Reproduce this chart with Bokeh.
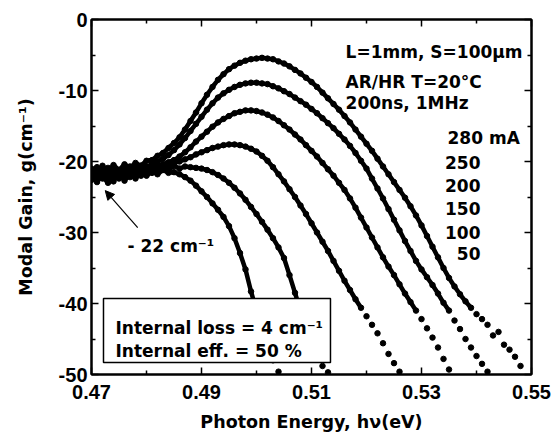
from bokeh.plotting import figure
from bokeh.models import (FixedTicker, PrintfTickFormatter, LinearAxis, Range1d,
                          Label, BoxAnnotation, Arrow, NormalHead)
from bokeh.embed import file_html
from bokeh.resources import INLINE

# ---------------- data ----------------
energy = [0.470, 0.471, 0.472, 0.473, 0.474, 0.475, 0.476, 0.477, 0.478, 0.479,
          0.480, 0.481, 0.482, 0.483, 0.484, 0.485, 0.486, 0.487, 0.488, 0.489,
          0.490, 0.491, 0.492, 0.493, 0.494, 0.495, 0.496, 0.497, 0.498, 0.499,
          0.500, 0.501, 0.502, 0.503, 0.504, 0.505, 0.506, 0.507, 0.508, 0.509,
          0.510, 0.511, 0.512, 0.513, 0.514, 0.515, 0.516, 0.517, 0.518, 0.519,
          0.520, 0.521, 0.522, 0.523, 0.524, 0.525, 0.526, 0.527, 0.528, 0.529,
          0.530, 0.531, 0.532, 0.533, 0.534, 0.535, 0.536, 0.537, 0.538, 0.539,
          0.540, 0.541, 0.542, 0.543, 0.544, 0.545, 0.546, 0.547, 0.548]

gain_280 = [-21.0, -21.8, -20.6, -21.4, -20.5, -21.2, -20.4, -20.9, -20.2, -20.6,
            -19.9, -19.8, -19.2, -18.8, -18.1, -17.4, -16.6, -15.5, -14.3, -13.1,
            -11.8, -10.6, -9.5, -8.5, -7.7, -7.0, -6.5, -6.1, -5.8, -5.6,
            -5.5, -5.4, -5.5, -5.6, -5.9, -6.2, -6.6, -7.1, -7.6, -8.2,
            -8.8, -9.5, -10.3, -11.1, -11.9, -12.7, -13.6, -14.5, -15.5, -16.5,
            -17.5, -18.5, -19.6, -20.7, -21.8, -22.9, -24.0, -25.1, -26.3, -27.6,
            -29.0, -30.5, -32.0, -33.5, -35.0, -36.4, -37.6, -38.7, -39.7, -40.6,
            -41.5, -42.2, -43.0, -44.5, -44.0, -45.8, -46.5, -47.5, -48.8]

gain_250 = [-22.2, -21.5, -22.4, -21.7, -21.0, -21.9, -21.3, -20.7, -21.4, -20.6,
            -20.9, -20.3, -20.0, -19.6, -19.1, -18.4, -17.6, -16.7, -15.7, -14.7,
            -13.7, -12.7, -11.8, -11.0, -10.4, -9.9, -9.5, -9.2, -9.0, -8.9,
            -8.9, -9.0, -9.1, -9.4, -9.7, -10.1, -10.5, -11.0, -11.5, -12.0,
            -12.6, -13.2, -13.9, -14.6, -15.3, -16.1, -16.9, -17.8, -18.8, -19.9,
            -21.0, -22.4, -23.8, -25.2, -26.7, -28.2, -29.7, -31.2, -32.6, -34.0,
            -35.2, -36.3, -37.4, -38.6, -39.9, -41.0, -42.4, -43.6, -45.0, -46.2,
            -47.4, -48.5, -49.6]

gain_200 = [-21.6, -22.6, -21.2, -22.0, -22.8, -21.5, -22.1, -21.0, -21.8, -21.2,
            -20.7, -21.3, -20.6, -20.4, -20.1, -19.8, -19.3, -18.7, -18.0, -17.2,
            -16.5, -15.8, -15.1, -14.5, -14.0, -13.6, -13.2, -13.0, -12.8, -12.8,
            -12.9, -13.1, -13.4, -13.8, -14.3, -14.9, -15.5, -16.2, -16.9, -17.7,
            -18.5, -19.3, -20.2, -21.1, -22.0, -23.0, -24.0, -25.2, -26.5, -27.9,
            -29.3, -30.7, -32.1, -33.5, -34.8, -36.0, -37.3, -38.6, -39.8, -41.0,
            -42.2, -43.5, -44.8, -46.2, -47.8, -49.3]

gain_150 = [-22.0, -20.8, -21.9, -22.5, -21.6, -22.3, -21.0, -21.8, -22.4, -21.5,
            -21.0, -21.6, -20.9, -20.6, -20.5, -20.2, -20.0, -19.7, -19.4, -19.0,
            -18.7, -18.4, -18.1, -17.9, -17.7, -17.6, -17.6, -17.7, -17.9, -18.2,
            -18.6, -19.2, -19.9, -20.8, -21.8, -22.8, -23.9, -25.0, -26.2, -27.4,
            -28.7, -30.0, -31.3, -32.6, -34.0, -35.4, -36.8, -38.1, -39.4, -40.6,
            -41.8, -43.0, -44.2, -45.6, -47.1, -48.4, -49.6]

gain_100 = [-21.3, -22.9, -21.8, -20.9, -22.2, -21.4, -22.7, -21.6, -20.8, -22.0,
            -21.3, -20.7, -21.5, -20.9, -21.2, -20.6, -21.0, -20.7, -20.8, -20.9,
            -21.0, -21.2, -21.5, -21.9, -22.4, -23.0, -23.7, -24.5, -25.4, -26.4,
            -27.4, -28.5, -29.6, -30.8, -32.1, -33.6, -36.0, -38.5, -41.0, -43.8,
            -46.0, -47.6, -48.8, -49.7]

gain_50 = [-22.6, -21.4, -22.1, -23.0, -21.7, -22.4, -21.5, -22.2, -21.7, -21.3,
           -22.0, -21.4, -21.8, -21.2, -21.6, -21.5, -21.8, -22.2, -22.7, -23.4,
           -24.2, -25.0, -25.9, -26.8, -27.8, -29.1, -30.8, -32.9, -35.2, -38.3,
           -41.0, -43.5, -46.0, -48.0, -49.6]

currents = ["280 mA", "250", "200", "150", "100", "50"]
series = [gain_280, gain_250, gain_200, gain_150, gain_100, gain_50]

x_ticks = [0.47, 0.49, 0.51, 0.53, 0.55]
x_minor = [0.48, 0.50, 0.52, 0.54]
y_ticks = [-50, -40, -30, -20, -10, 0]
y_minor = [-45, -35, -25, -15, -5]

# ---------------- figure ----------------
p = figure(frame_width=440, frame_height=355,
           x_range=Range1d(0.47, 0.55), y_range=Range1d(-50, 0),
           output_backend="svg", toolbar_location=None,
           min_border_left=91, min_border_right=22,
           min_border_top=19, min_border_bottom=60,
           background_fill_color="white", border_fill_color="white")
p.grid.visible = False
p.outline_line_color = "black"
p.outline_line_width = 2

bottom_ax = p.below[0]
left_ax = p.left[0]
top_ax = LinearAxis()
right_ax = LinearAxis()
p.add_layout(top_ax, "above")
p.add_layout(right_ax, "right")

TXT = "DejaVu Sans"

for g in series:
    n = len(g)
    xs = energy[:n]
    dense_x = [x for x, y in zip(xs, g) if y >= -41]
    dense_y = [y for y in g if y >= -41]
    p.line(dense_x, dense_y, line_color="black", line_width=4.5)
    p.scatter(xs, g, marker="circle", size=5.5, fill_color="black", line_color="black")


def style(ax, ticks, minor, labels):
    ax.ticker = FixedTicker(ticks=ticks, minor_ticks=minor)
    ax.axis_line_width = 2
    ax.axis_line_color = "black"
    ax.major_tick_in = 7
    ax.major_tick_out = 0
    ax.minor_tick_in = 4
    ax.minor_tick_out = 0
    ax.major_tick_line_width = 1.5
    ax.minor_tick_line_width = 1.5
    if labels:
        ax.major_label_text_font = "Liberation Sans"
        ax.major_label_text_font_style = "bold"
        ax.major_label_text_font_size = "20px"
        ax.major_label_text_color = "black"
    else:
        ax.major_label_text_font_size = "0px"
        ax.major_label_standoff = 0


style(bottom_ax, x_ticks, x_minor, True)
style(left_ax, y_ticks, y_minor, True)
style(top_ax, x_ticks, x_minor, False)
style(right_ax, y_ticks, y_minor, False)

bottom_ax.formatter = PrintfTickFormatter(format="%.2f")
left_ax.formatter = PrintfTickFormatter(format="%d")
bottom_ax.major_label_standoff = 10
left_ax.major_label_standoff = 4

bottom_ax.axis_label = "Photon Energy, h\u03bd(eV)"
left_ax.axis_label = "Modal Gain, g(cm\u207b\u00b9)"
for ax in (bottom_ax, left_ax):
    ax.axis_label_text_font = TXT
    ax.axis_label_text_font_style = "bold"
    ax.axis_label_text_font_size = "17.5px"
    ax.axis_label_text_color = "black"
bottom_ax.axis_label_standoff = 10
left_ax.axis_label_standoff = 20

# ---------------- annotations ----------------
def lab(x, y, t, align="left"):
    p.add_layout(Label(x=x, y=y, text=t, text_font=TXT, text_font_style="bold",
                       text_font_size="17px", text_color="black",
                       text_align=align, text_baseline="alphabetic"))


lab(0.5162, -4.51, "L=1mm, S=100\u03bcm")
lab(0.5162, -8.87, "AR/HR T=20\u00b0C")
lab(0.5162, -11.83, "200ns, 1MHz")

label_y = [-16.76, -20.14, -23.38, -26.62, -30.0, -32.96]
for name, yy in zip(currents, label_y):
    if name.endswith("mA"):
        lab(0.53473, yy, name)
    else:
        lab(0.54073, yy, name, "right")

p.add_layout(Arrow(end=NormalHead(size=9, fill_color="black", line_color="black", line_width=1),
                   x_start=0.4784, y_start=-29.3, x_end=0.4725, y_end=-24.1,
                   line_width=1.2, line_color="black"))
lab(0.47655, -31.97, "- 22 cm\u207b\u00b9")

p.add_layout(BoxAnnotation(left=0.47218, right=0.51345, top=-39.3, bottom=-48.3,
                           fill_color="white", fill_alpha=1.0,
                           line_color="black", line_width=1.5, line_alpha=1.0))
lab(0.47436, -43.52, "Internal loss = 4 cm\u207b\u00b9")
lab(0.47436, -46.62, "Internal eff. = 50 %")

open("out.html", "w").write(file_html(p, INLINE))
